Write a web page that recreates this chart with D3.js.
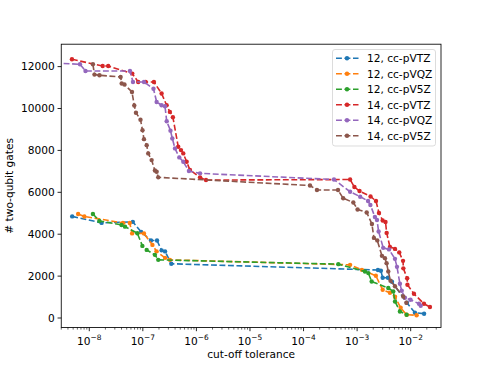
<!DOCTYPE html>
<html>
<head>
<meta charset="utf-8">
<title>two-qubit gates vs cut-off tolerance</title>
<style>
  body { margin: 0; background: #fff; }
  text { font-family: "DejaVu Sans", sans-serif; fill: #000; }
</style>
</head>
<body>
<div id="chart"></div>
<script src="https://cdn.jsdelivr.net/npm/d3@7"></script>
<script>
// ******* data *******
const seriesNames = ["12, cc-pVTZ", "12, cc-pVQZ", "12, cc-pV5Z", "14, cc-pVTZ", "14, cc-pVQZ", "14, cc-pV5Z"];
const seriesColors = ["#1f77b4", "#ff7f0e", "#2ca02c", "#d62728", "#9467bd", "#8c564b"];

const tol12TZ = [4.8e-9, 1.7e-8, 6.5e-8, 9.3e-8, 1.42e-7, 1.84e-7, 2.24e-7, 2.6e-7, 3.4e-7, 2.45e-3, 2.78e-3, 3.0e-3, 3.76e-3, 4.47e-3, 8.5e-3, 1.2e-2, 1.78e-2];
const gates12TZ = [4850, 4540, 4590, 4110, 3700, 3700, 3230, 3180, 2590, 2290, 2253, 1919, 1919, 1729, 729, 252, 205];

const tol12QZ = [6.2e-9, 8.1e-9, 4.25e-8, 5.7e-8, 6.3e-8, 1.05e-7, 1.51e-7, 1.8e-7, 2.6e-7, 3.2e-7, 7.4e-4, 1.23e-3, 2.24e-3, 3.0e-3, 4.1e-3, 5.1e-3, 6.5e-3, 8.4e-3, 1.29e-2];
const gates12QZ = [4966, 4848, 4538, 4538, 4038, 4038, 3490, 3181, 2871, 2776, 2538, 2300, 2014, 1348, 1205, 1014, 490, 157, 133];

const tol125Z = [1.17e-8, 1.54e-8, 4.0e-8, 4.65e-8, 7.9e-8, 9.8e-8, 1.18e-7, 1.68e-7, 1.94e-7, 4.46e-4, 1.4e-3, 1.62e-3, 1.87e-3, 3.82e-3, 4.73e-3, 5.1e-3, 6.3e-3, 8.4e-3];
const gates125Z = [4966, 4633, 4443, 4362, 4048, 3443, 3252, 3014, 2776, 2571, 2219, 2143, 1743, 1429, 1267, 790, 314, 157];

const tol14TZ = [4.75e-9, 1.78e-8, 2.26e-8, 6.35e-8, 8.2e-8, 1.13e-7, 1.61e-7, 2.24e-7, 2.78e-7, 3.2e-7, 3.64e-7, 4.58e-7, 5.15e-7, 5.69e-7, 6.58e-7, 7.58e-7, 1.17e-6, 1.51e-6, 7.4e-4, 8.9e-4, 1.11e-3, 1.78e-3, 2.25e-3, 2.56e-3, 3.0e-3, 3.39e-3, 3.56e-3, 4.1e-3, 5.09e-3, 6.12e-3, 7.2e-3, 7.3e-3, 8.6e-3, 8.7e-3, 1.15e-2, 1.77e-2, 2.29e-2];
const gates14TZ = [12350, 12029, 12029, 11667, 11267, 11267, 11267, 10714, 10157, 9838, 9586, 8172, 8014, 7857, 7457, 7062, 6714, 6586, 6610, 6252, 6062, 5800, 5586, 5014, 4657, 4586, 4062, 3395, 3300, 3133, 2729, 2371, 1895, 1586, 1157, 681, 524];

const tol14QZ = [1.6e-9, 6.7e-9, 8.5e-9, 5.75e-8, 6.55e-8, 1.05e-7, 1.58e-7, 1.81e-7, 2.24e-7, 2.59e-7, 2.79e-7, 3.28e-7, 3.55e-7, 3.98e-7, 4.79e-7, 5.69e-7, 7.25e-7, 1.17e-6, 3.7e-4, 7.4e-4, 1.14e-3, 1.6e-3, 1.77e-3, 2.15e-3, 2.35e-3, 2.52e-3, 3.07e-3, 3.94e-3, 5.09e-3, 5.55e-3, 6.3e-3, 6.8e-3, 7.8e-3, 9.9e-3, 1.43e-2, 1.54e-2];
const gates14QZ = [12190, 12110, 11790, 11790, 11267, 11267, 10943, 10314, 10157, 10110, 9395, 8943, 8572, 8095, 7667, 7457, 7014, 6905, 6610, 6029, 5791, 5586, 5395, 4824, 4681, 4133, 3348, 3276, 2824, 2443, 1633, 1300, 967, 871, 681, 586];

const tol145Z = [1.17e-8, 1.25e-8, 1.55e-8, 3.85e-8, 4.03e-8, 4.54e-8, 6.27e-8, 6.92e-8, 7.44e-8, 9.04e-8, 9.85e-8, 1.05e-7, 1.18e-7, 1.26e-7, 1.46e-7, 1.68e-7, 1.81e-7, 1.94e-7, 1.32e-4, 1.78e-4, 4.4e-4, 5.5e-4, 8.5e-4, 1.02e-3, 1.51e-3, 1.89e-3, 2.06e-3, 2.38e-3, 2.91e-3, 3.31e-3, 3.55e-3, 3.82e-3, 4.2e-3, 5.09e-3, 7.26e-3, 8.3e-3];
const gates145Z = [12110, 11619, 11586, 11505, 11191, 11143, 10790, 10143, 9800, 9467, 8967, 8538, 8252, 7857, 7538, 7038, 6981, 6714, 6324, 6110, 6110, 5714, 5514, 5181, 5038, 4490, 3824, 3705, 2967, 2857, 2619, 2219, 1776, 1514, 1029, 729];

const xDomain = [Math.pow(10, -8.523), Math.pow(10, -1.434)];
const yDomain = [-453, 13070];
const yTicks = [0, 2000, 4000, 6000, 8000, 10000, 12000];
const xTickExps = [-8, -7, -6, -5, -4, -3, -2];

const tols = [tol12TZ, tol12QZ, tol125Z, tol14TZ, tol14QZ, tol145Z];
const gates = [gates12TZ, gates12QZ, gates125Z, gates14TZ, gates14QZ, gates145Z];
const series = seriesNames.map((name, k) => ({
  name: name,
  color: seriesColors[k],
  points: tols[k].map((t, i) => ({ t: t, g: gates[k][i] }))
}));

// ******* layout (matplotlib default axes box) *******
const W = 490, H = 368;
const box = { left: 61.25, right: 441, top: 44.2, bottom: 327.5 };

const svg = d3.select("#chart").append("svg")
  .attr("width", W).attr("height", H);

const x = d3.scaleLog().domain(xDomain).range([box.left, box.right]);
const y = d3.scaleLinear().domain(yDomain).range([box.bottom, box.top]);

svg.append("clipPath").attr("id", "plotclip")
  .append("rect")
  .attr("x", box.left).attr("y", box.top)
  .attr("width", box.right - box.left).attr("height", box.bottom - box.top);

// ******* lines and markers *******
const line = d3.line().x(d => x(d.t)).y(d => y(d.g));
const plot = svg.append("g").attr("clip-path", "url(#plotclip)");

series.forEach(s => {
  plot.append("path")
    .attr("d", line(s.points))
    .attr("fill", "none")
    .attr("stroke", s.color)
    .attr("stroke-width", 1.6)
    .attr("stroke-dasharray", "5.9,2.6");
  plot.selectAll(null)
    .data(s.points)
    .enter().append("circle")
    .attr("cx", d => x(d.t))
    .attr("cy", d => y(d.g))
    .attr("r", 2.2)
    .attr("fill", s.color);
});

// ******* axes *******
const xAxis = svg.append("g")
  .attr("transform", `translate(0,${box.bottom})`);
const minorTicks = [];
for (let e = -9; e <= -1; e++) {
  for (let m = 2; m <= 9; m++) {
    const v = m * Math.pow(10, e);
    if (v >= xDomain[0] && v <= xDomain[1]) minorTicks.push(v);
  }
}
xAxis.selectAll(".minor").data(minorTicks).enter().append("line")
  .attr("x1", d => x(d)).attr("x2", d => x(d))
  .attr("y1", 0).attr("y2", 2.1)
  .attr("stroke", "#000").attr("stroke-width", 0.6);
xAxis.selectAll(".major").data(xTickExps).enter().append("line")
  .attr("x1", d => x(Math.pow(10, d))).attr("x2", d => x(Math.pow(10, d)))
  .attr("y1", 0).attr("y2", 3.7)
  .attr("stroke", "#000").attr("stroke-width", 0.85);
const xLabels = xAxis.selectAll(".xlab").data(xTickExps).enter().append("text")
  .attr("x", d => x(Math.pow(10, d)))
  .attr("y", 17)
  .attr("text-anchor", "middle")
  .style("font-size", "10.6px");
xLabels.append("tspan").text("10");
xLabels.append("tspan")
  .attr("dy", -4.5)
  .style("font-size", "7.4px")
  .text(d => "\u2212" + Math.abs(d));

const yAxis = svg.append("g");
yAxis.selectAll(".ytick").data(yTicks).enter().append("line")
  .attr("x1", box.left - 3.7).attr("x2", box.left)
  .attr("y1", d => y(d)).attr("y2", d => y(d))
  .attr("stroke", "#000").attr("stroke-width", 0.85);
yAxis.selectAll(".ylab").data(yTicks).enter().append("text")
  .attr("x", box.left - 6.5)
  .attr("y", d => y(d) + 3.8)
  .attr("text-anchor", "end")
  .style("font-size", "10.6px")
  .text(d => d);

// frame
svg.append("rect")
  .attr("x", box.left).attr("y", box.top)
  .attr("width", box.right - box.left).attr("height", box.bottom - box.top)
  .attr("fill", "none").attr("stroke", "#000").attr("stroke-width", 0.85);

// axis labels
svg.append("text")
  .attr("x", (box.left + box.right) / 2).attr("y", 357.5)
  .attr("text-anchor", "middle")
  .style("font-size", "10.6px")
  .text("cut-off tolerance");
svg.append("text")
  .attr("transform", `translate(13,${(box.top + box.bottom) / 2}) rotate(-90)`)
  .attr("text-anchor", "middle")
  .style("font-size", "10.6px")
  .text("# two-qubit gates");

// ******* legend *******
const legend = svg.append("g");
legend.append("rect")
  .attr("x", 332.5).attr("y", 49.5)
  .attr("width", 103).attr("height", 96.5)
  .attr("rx", 2.5)
  .attr("fill", "#fff").attr("fill-opacity", 0.8)
  .attr("stroke", "#d6d6d6").attr("stroke-width", 0.85);
series.forEach((s, k) => {
  const ly = 58.3 + k * 15.5;
  legend.append("line")
    .attr("x1", 336).attr("x2", 358.5)
    .attr("y1", ly).attr("y2", ly)
    .attr("stroke", s.color).attr("stroke-width", 1.6)
    .attr("stroke-dasharray", "5.9,2.6");
  legend.append("circle")
    .attr("cx", 347).attr("cy", ly).attr("r", 2.2)
    .attr("fill", s.color);
  legend.append("text")
    .attr("x", 367).attr("y", ly + 3.8)
    .style("font-size", "10.6px")
    .text(s.name);
});
</script>
</body>
</html>
